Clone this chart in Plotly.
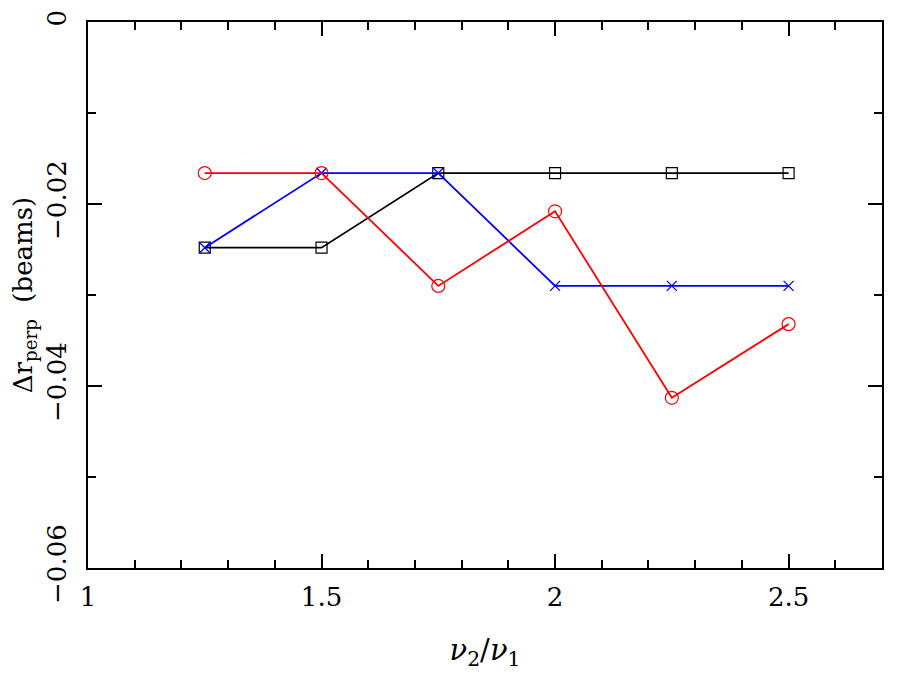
import plotly.graph_objects as go

# frequency ratio nu2/nu1
ratio = [1.25, 1.5, 1.75, 2.0, 2.25, 2.5]

# perpendicular offset (beams) for three cases
dr_black = [-0.0248, -0.0248, -0.0166, -0.0166, -0.0166, -0.0166]
dr_blue = [-0.0248, -0.0166, -0.0166, -0.0290, -0.0290, -0.0290]
dr_red = [-0.0166, -0.0166, -0.0290, -0.0208, -0.0413, -0.0332]

xticks = [1, 1.5, 2, 2.5]
xticklabels = ["1", "1.5", "2", "2.5"]
yticks = [0, -0.02, -0.04, -0.06]
yticklabels = ["0", "\u22120.02", "\u22120.04", "\u22120.06"]

FONT = "DejaVu Serif"

fig = go.Figure()
fig.add_trace(go.Scatter(x=ratio, y=dr_black, mode="lines+markers",
                         line=dict(color="black", width=1.8),
                         marker=dict(symbol="square-open", size=11, color="black",
                                     line=dict(width=1.2))))
fig.add_trace(go.Scatter(x=ratio, y=dr_blue, mode="lines+markers",
                         line=dict(color="blue", width=1.8),
                         marker=dict(symbol="x-thin-open", size=10, color="blue",
                                     line=dict(width=1.3, color="blue"))))
fig.add_trace(go.Scatter(x=ratio, y=dr_red, mode="lines+markers",
                         line=dict(color="red", width=1.8),
                         marker=dict(symbol="circle-open", size=13, color="red",
                                     line=dict(width=1.2))))

axis_common = dict(showline=True, linecolor="black", linewidth=2, mirror="allticks",
                   ticks="inside", ticklen=14, tickwidth=1.5, tickcolor="black",
                   showgrid=False, zeroline=False, automargin=False,
                   tickfont=dict(family=FONT, size=26, color="black"))

fig.update_xaxes(range=[1, 2.7], tickvals=xticks, ticktext=xticklabels,
                 ticklabelstandoff=5,
                 minor=dict(dtick=0.1, ticks="inside", ticklen=8, tickwidth=1.5,
                            tickcolor="black", showgrid=False),
                 title=dict(text="<i>\u03bd</i><sub>2</sub>/<i>\u03bd</i><sub>1</sub>",
                            font=dict(family=FONT, size=29, color="black"),
                            standoff=28),
                 **axis_common)
fig.update_yaxes(range=[-0.06, 0], tickvals=yticks, ticktext=yticklabels,
                 tickangle=-90, ticklabelstandoff=10,
                 minor=dict(tickvals=[-0.01, -0.03, -0.05], ticks="inside", ticklen=8,
                            tickwidth=1.5, tickcolor="black", showgrid=False),
                 title=dict(text="\u0394r<sub>perp</sub>  (beams)",
                            font=dict(family=FONT, size=26, color="black"),
                            standoff=16),
                 **axis_common)

# page body adds an 8px offset, margins are set to compensate
fig.update_layout(width=906, height=675, plot_bgcolor="white", paper_bgcolor="white",
                  showlegend=False,
                  margin=dict(l=80, r=32, t=14, b=115))

fig.write_html("out.html")
